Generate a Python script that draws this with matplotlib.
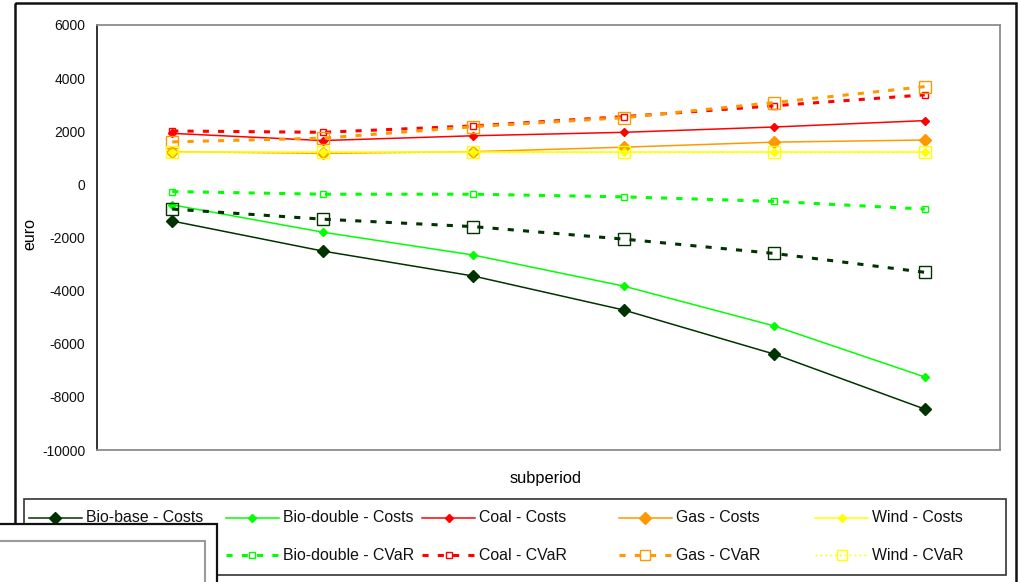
import matplotlib
matplotlib.use("Agg")
import matplotlib.pyplot as plt
from matplotlib.lines import Line2D
from matplotlib.patches import Rectangle

plt.rcParams['font.family'] = ['Liberation Sans', 'DejaVu Sans']
plt.rcParams['axes.unicode_minus'] = False

# cost and CVaR per subperiod, in euro
subperiod = [1, 2, 3, 4, 5, 6]
bio_base_costs = [-1380, -2510, -3450, -4730, -6390, -8460]
bio_double_costs = [-770, -1800, -2660, -3830, -5330, -7250]
coal_costs = [1920, 1650, 1830, 1960, 2160, 2400]
gas_costs = [1230, 1170, 1230, 1400, 1590, 1670]
wind_costs = [1220, 1220, 1220, 1220, 1220, 1220]
bio_base_cvar = [-930, -1310, -1590, -2060, -2600, -3310]
bio_double_cvar = [-270, -370, -370, -470, -640, -930]
coal_cvar = [2010, 1960, 2200, 2550, 2960, 3370]
gas_cvar = [1600, 1740, 2170, 2510, 3080, 3680]
wind_cvar = [1210, 1210, 1210, 1210, 1210, 1210]

DKGREEN, GREEN, RED, ORANGE, YELLOW = '#003300', '#00FF00', '#FF0000', '#FF9900', '#FFFF00'
SOLID = dict(ls='-', lw=1.1)
DASH = dict(ls=(0, (2, 3)), lw=2.2)
DOT = dict(ls=(0, (1.5, 2)), lw=1.0)

# label, values, colour, line style, marker, marker size
series = [
    ('Bio-base - Costs', bio_base_costs, DKGREEN, SOLID, 'D', 6.5),
    ('Bio-double - Costs', bio_double_costs, GREEN, SOLID, 'D', 4),
    ('Coal - Costs', coal_costs, RED, SOLID, 'D', 4.5),
    ('Gas - Costs', gas_costs, ORANGE, SOLID, 'D', 6.5),
    ('Wind - Costs', wind_costs, YELLOW, SOLID, 'D', 4),
    ('Bio-base - CVaR', bio_base_cvar, DKGREEN, DASH, 's', 8.5),
    ('Bio-double - CVaR', bio_double_cvar, GREEN, DASH, 's', 5),
    ('Coal - CVaR', coal_cvar, RED, DASH, 's', 5),
    ('Gas - CVaR', gas_cvar, ORANGE, DASH, 's', 8.5),
    ('Wind - CVaR', wind_cvar, YELLOW, DOT, 's', 8),
]


def style(color, ls, marker, ms):
    filled = marker == 'D'
    return dict(color=color, marker=marker, ms=ms, mec=color,
                mfc=color if filled else 'none', mew=1.0, **ls)


fig = plt.figure(figsize=(10.19, 5.82), dpi=100)
W, H = 1019, 582
ax = fig.add_axes([97 / W, 1 - 450 / H, 903 / W, 425 / H])

for label, vals, color, ls, marker, ms in series:
    ax.plot(subperiod, vals, label=label, **style(color, ls, marker, ms))

ax.set_xlim(0.5, 6.5)
ax.set_ylim(-10000, 6000)
ax.set_yticks(range(-10000, 6001, 2000))
ax.set_xticks([])
ax.tick_params(axis='y', length=0, pad=8.5, labelsize=10, labelcolor='#111111')
ax.set_ylabel('euro', fontsize=11.5, va='center')
ax.yaxis.set_label_coords((30 - 97) / 903, (450 - 234) / 425)
ax.set_xlabel('subperiod', fontsize=11.8, va='center')
ax.xaxis.set_label_coords((546 - 97) / 903, (450 - 478) / 425)
for side in ('top', 'right', 'bottom'):
    ax.spines[side].set_color('#8c8c8c')
    ax.spines[side].set_linewidth(1.3)
ax.spines['left'].set_color('#222222')
ax.spines['left'].set_linewidth(1.3)

# frame, legend box and panel drawn in pixel coordinates
ov = fig.add_axes([0, 0, 1, 1], zorder=5)
ov.set_xlim(0, W)
ov.set_ylim(H, 0)
ov.axis('off')
ov.patch.set_alpha(0)

ov.add_patch(Rectangle((15, 3), 1001, 620, fill=False, ec='#111111', lw=1.8))
ov.add_patch(Rectangle((24, 499), 982, 76, fill=False, ec='#333333', lw=1.2))

col_w = 196.6
for i, (label, vals, color, ls, marker, ms) in enumerate(series):
    col, row = i % 5, i // 5
    x0 = 29 + col * col_w
    y = 518 + row * 37
    st = style(color, ls, marker, ms)
    ov.add_line(Line2D([x0, x0 + 53], [y, y], **{k: v for k, v in st.items() if k != 'marker'},
                       marker=None))
    ov.plot([x0 + 26.5], [y], ls='none', marker=marker, ms=ms * 0.85 if marker == 's' else ms,
            mec=color, mfc=st['mfc'], mew=1.0)
    ov.text(x0 + 57, y, label, fontsize=11.4, va='center', ha='left', color='#111111')

# panel lying over the lower left corner
ov.add_patch(Rectangle((-5, 524), 222, 70, fc='white', ec='#111111', lw=1.6, zorder=10))
ov.add_patch(Rectangle((-5, 541), 210, 60, fill=False, ec='#9a9a9a', lw=1.5, zorder=11))

fig.savefig('out.png', dpi=100)
